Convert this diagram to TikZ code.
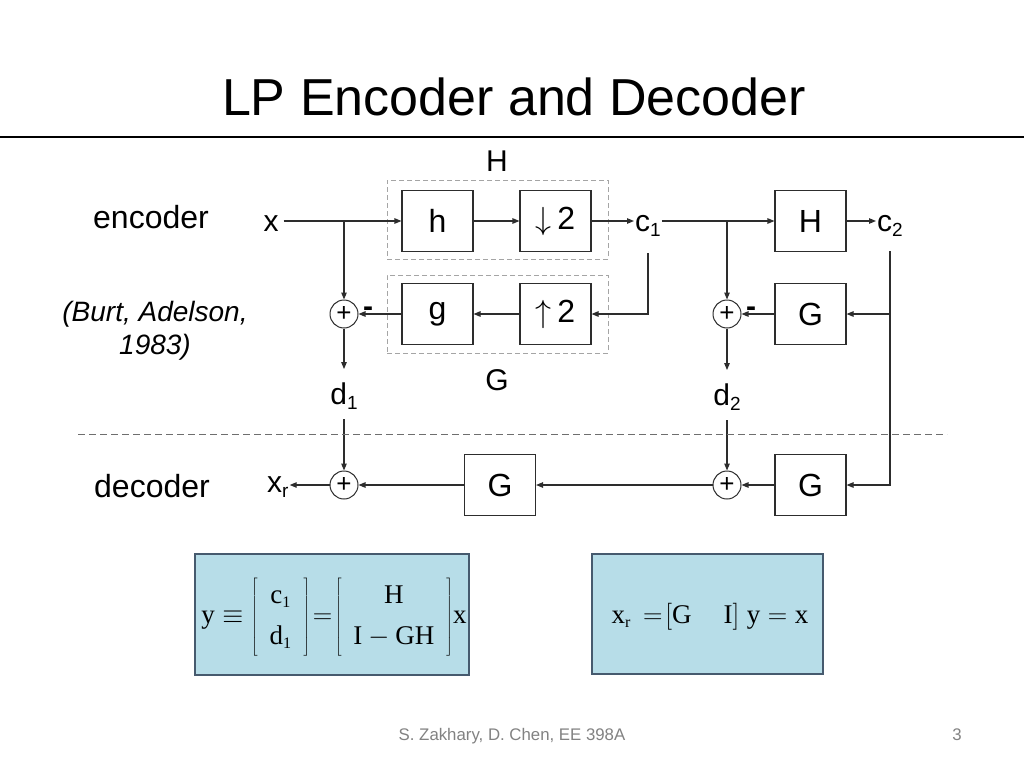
\RequirePackage{fix-cm}
\documentclass[tikz,border=0pt]{standalone}
\usepackage{fontspec}
\setmainfont{Liberation Sans}
\newfontfamily\serif{Liberation Serif}
\usetikzlibrary{arrows.meta}
\definecolor{ln}{RGB}{45,45,45}
\definecolor{grpc}{RGB}{165,165,165}
\definecolor{sepc}{RGB}{110,110,110}
\definecolor{eqfill}{RGB}{183,221,232}
\definecolor{eqdraw}{RGB}{70,90,110}
\definecolor{footc}{RGB}{130,130,130}
\newcommand{\fs}[1]{\fontsize{#1}{#1}\selectfont}
\newcommand{\sr}[1]{\hbox{\serif #1}}
\newcommand{\srsub}[1]{\hbox{\serif\fs{16}#1}}
\tikzset{
  blk/.style={draw=ln, line width=1.1pt, minimum width=71pt, minimum height=61pt, inner sep=0pt, font=\fs{32}},
  sumnode/.style={circle, draw=ln, line width=1pt, minimum size=28pt, inner sep=0pt, font=\fs{26}},
  lbl/.style={inner sep=1pt, font=\fs{30}},
  minus/.style={inner sep=1pt, font=\fs{30}\bfseries},
  grp/.style={draw=grpc, dash pattern=on 5pt off 3pt, line width=1pt, inner sep=0pt},
  sig/.style={draw=ln, line width=1.1pt, -{Triangle[length=7pt,width=5.5pt]}},
  sepline/.style={draw=sepc, line width=1pt, dash pattern=on 7pt off 4pt},
  eqbox/.style={draw=eqdraw, line width=1.2pt, fill=eqfill, inner sep=0pt},
  side/.style={inner sep=0pt, font=\fs{32}},
}
\begin{document}
\begin{tikzpicture}[x=1pt,y=-1pt]
\useasboundingbox (0,0) rectangle (1024,768);
\fill[white] (0,0) rectangle (1024,768);

% title
\node[anchor=base, inner sep=0pt, font=\fs{52}] (title) at (514,115) {LP Encoder and Decoder};
\coordinate (ruleL) at (0,137);
\coordinate (ruleR) at (1024,137);
\draw[line width=1.4pt, black] (ruleL) -- (ruleR);

% side labels
\node[side, anchor=base] (enc) at (151,228) {encoder};
\node[inner sep=0pt, align=center, font=\itshape\fontsize{28}{33}\selectfont] (ref) at (155,331) {(Burt, Adelson,\\1983)};
\node[side, anchor=base] (dec) at (152,497) {decoder};

% group boxes
\node[grp, minimum width=221pt, minimum height=79pt] (Hgrp) at (497.5,219.5) {};
\node[grp, minimum width=221pt, minimum height=78pt] (Ggrp) at (497.5,314) {};
\node[lbl] (Hlab) at (497,161) {H};
\node[lbl] (Glab) at (497,380) {G};

% blocks
\node[blk] (h) at (437.5,221) {h};
\node[blk] (dn) at (555.5,221) {$\downarrow$\,2};
\node[blk] (H) at (810.5,221) {H};
\node[blk] (g) at (437.5,314) {g};
\node[blk] (up) at (555.5,314) {$\uparrow$\,2};
\node[blk] (Ge) at (810.5,314) {G};
\node[blk] (Gm) at (500,485) {G};
\node[blk] (Gd) at (810.5,485) {G};

% sums
\node[sumnode] (s1) at (344,314) {+};
\node[sumnode] (s2) at (727,314) {+};
\node[sumnode] (s3) at (344,485) {+};
\node[sumnode] (s4) at (727,485) {+};
\node[minus] (m1) at (368,312) {-};
\node[minus] (m2) at (751,312) {-};

% signal labels
\node[lbl, anchor=base] (x) at (271,231) {x};
\node[lbl, anchor=base west] (c1) at (634,231) {c\raisebox{-5pt}{\fs{19}1}};
\node[lbl, anchor=base west] (c2) at (876,231) {c\raisebox{-5pt}{\fs{19}2}};
\node[lbl, anchor=base] (d1) at (344,404) {d\raisebox{-5pt}{\fs{19}1}};
\node[lbl, anchor=base] (d2) at (727,405) {d\raisebox{-5pt}{\fs{19}2}};
\node[lbl, anchor=base west] (xr) at (266,492) {x\raisebox{-5pt}{\fs{19}r}};

% encoder stage 1
\draw[sig, shorten <=4pt] (x.east |- h.west) -- (h.west);
\draw[sig] (s1.north |- h.west) -- (s1.north);
\draw[sig] (h) -- (dn);
\draw[sig] (dn.east) -- (dn.east -| c1.west);
\draw[sig, shorten <=16pt] (c1.south) |- (up.east);
\draw[sig] (up) -- (g);
\draw[sig] (g) -- (s1);
\draw[sig, shorten >=12pt] (s1.south) -- (s1.south |- d1.north);
\draw[sig, shorten <=9pt] (d1.south -| s3.north) -- (s3.north);

% encoder stage 2
\draw[sig] (c1.east |- H.west) -- (H.west);
\draw[sig] (s2.north |- H.west) -- (s2.north);
\draw[sig] (H.east) -- (H.east -| c2.west);
\draw[sig, shorten <=14pt] (c2.south) |- (Gd.east);
\draw[sig] (c2.south |- Ge.east) -- (Ge.east);
\draw[sig] (Ge) -- (s2);
\draw[sig, shorten >=12pt] (s2.south) -- (s2.south |- d2.north);
\draw[sig, shorten <=9pt] (d2.south -| s4.north) -- (s4.north);

% decoder
\draw[sig] (Gd) -- (s4);
\draw[sig] (s4) -- (Gm);
\draw[sig] (Gm) -- (s3);
\draw[sig] (s3.west) -- (s3.west -| xr.east);

% separator
\coordinate (sepL) at (78,434);
\coordinate (sepR) at (947,434);
\draw[sepline] (sepL) -- (sepR);

% equation boxes
\node[eqbox, minimum width=274pt, minimum height=121pt] (eq1box) at (332,614.5) {};
\node[inner sep=0pt, font=\fs{27}] (eq1) at (334,617) {$\sr{y}\equiv\left[\begin{array}{@{\hspace{12pt}}c@{\hspace{12pt}}}\rule{0pt}{26pt}\sr{c}_{\srsub{1}}\\[14pt]\rule[-12pt]{0pt}{12pt}\sr{d}_{\srsub{1}}\end{array}\right]\mskip-3.3mu=\mskip-3.3mu\left[\begin{array}{@{\hspace{12pt}}c@{\hspace{12pt}}}\rule{0pt}{26pt}\sr{H}\\[14pt]\rule[-12pt]{0pt}{12pt}\sr{I}-\sr{GH}\end{array}\right]\!\sr{x}$};
\node[eqbox, minimum width=231pt, minimum height=120pt] (eq2box) at (707.5,614) {};
\node[inner sep=0pt, font=\fs{27}] (eq2) at (710,617) {$\sr{x}_{\srsub{r}}\,=\!\left[\rule[-7pt]{0pt}{27pt}\sr{G}\hspace{32pt}\sr{I}\right]\mskip2mu\sr{y}=\sr{x}$};

% footer
\node[anchor=base, inner sep=0pt, font=\fs{16.8}, text=footc] (foot) at (512,740) {S. Zakhary, D. Chen, EE 398A};
\node[anchor=base, inner sep=0pt, font=\fs{16.8}, text=footc] (page) at (957,740) {3};
\end{tikzpicture}
\end{document}
